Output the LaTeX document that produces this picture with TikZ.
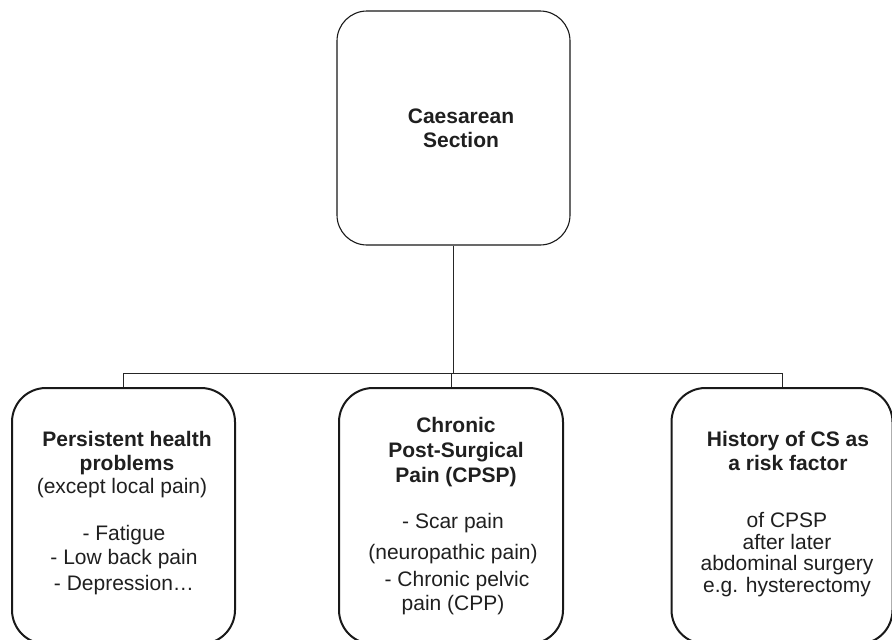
\documentclass[tikz,border=0pt]{standalone}
\usepackage{fontspec}
\setmainfont{Liberation Sans}
\begin{document}
\begin{tikzpicture}[x=1pt,y=-1pt,
  topbox/.style={draw=black!90, line width=1.1pt, rounded corners=30pt, minimum width=233pt, minimum height=234pt, inner sep=0pt},
  subbox/.style={draw=black!90, line width=2pt, rounded corners=34pt, minimum height=256pt, inner sep=0pt, anchor=north},
  conn/.style={draw=black!85, line width=0.9pt},
  txt/.style={font=\fontsize{21}{24}\selectfont, text=black!88, align=center, inner sep=0pt, anchor=base}]
\path[use as bounding box] (0,0) rectangle (892,640);
\clip (0,0) rectangle (892,640);
% boxes
\node[topbox] (cs) at (453.5,128) {};
\node[subbox, minimum width=223pt] (ph) at (123.5,387) {};
\node[subbox, minimum width=224pt] (cpsp) at (451,387) {};
\node[subbox, minimum width=221pt] (hist) at (782,387) {};
% connectors
\coordinate (bus) at (453.5,373);
\draw[conn] (cs.south) -- (bus);
\draw[conn] (ph.north) -- ++(0,-14) -| (hist.north);
\draw[conn] (cpsp.north) -- (cpsp.north |- bus);
% texts (anchor base = baseline of the last line)
\node[txt, font=\fontsize{21}{24}\bfseries] (cst) at (461,147) {Caesarean\\Section};
\node[txt, font=\fontsize{21}{24}\bfseries] (pht) at (127,470) {Persistent health\\problems};
\node[txt] (phe) at (122,493) {(except local pain)};
\node[txt] (phb) at (124,590) {- Fatigue\\- Low back pain\\[2pt]- Depression…};
\node[txt, font=\fontsize{21}{25}\bfseries] (cpt) at (456,482) {Chronic\\Post-Surgical\\Pain (CPSP)};
\node[txt] (cpb) at (453,610) {- Scar pain\\[7pt](neuropathic pain)\\[3pt]\hspace*{8pt}- Chronic pelvic\\pain (CPP)};
\node[txt, font=\fontsize{21}{23.5}\bfseries] (hit) at (788,470) {History of CS as\\a risk factor};
\node[txt, font=\fontsize{21}{21.5}\selectfont] (hib) at (787,592) {of CPSP\\after later\\abdominal surgery\\e.g. hysterectomy};
\end{tikzpicture}
\end{document}
